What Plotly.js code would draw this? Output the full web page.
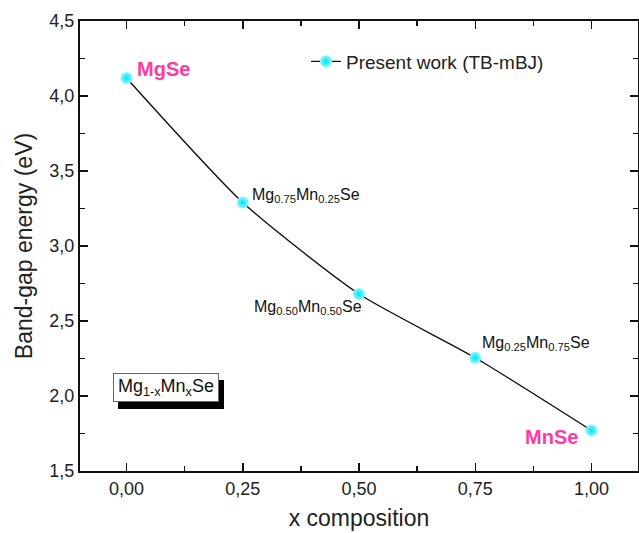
<!DOCTYPE html>
<html>
<head>
<meta charset="utf-8">
<script src="https://cdn.plot.ly/plotly-3.0.1.min.js"></script>
<style>html,body{margin:0;padding:0;background:#fff;}#chart{width:639px;height:533px;}</style>
</head>
<body>
<div id="chart"></div>
<script>
const composition = [0, 0.25, 0.5, 0.75, 1.0];
const bandGap = [4.12, 3.29, 2.68, 2.255, 1.77];
const seriesName = "Present work (TB-mBJ)";
const pointLabels = ["Mg<sub>0.75</sub>Mn<sub>0.25</sub>Se", "Mg<sub>0.50</sub>Mn<sub>0.50</sub>Se", "Mg<sub>0.25</sub>Mn<sub>0.75</sub>Se"];
const endLabels = ["MgSe", "MnSe"];
const boxLabel = "Mg<sub>1-x</sub>Mn<sub>x</sub>Se";
const xTicks = [0, 0.25, 0.5, 0.75, 1.0];
const yTicks = [1.5, 2.0, 2.5, 3.0, 3.5, 4.0, 4.5];

const FONT = "Arial, 'Liberation Sans', sans-serif";
const pink = "#ff3aa0";

const trace = {
  x: composition, y: bandGap, name: seriesName,
  type: "scatter", mode: "lines+markers",
  line: {color: "#111", width: 1.4, shape: "spline", smoothing: 0.6},
  marker: {size: 12, color: "#8ff8ff", gradient: {type: "radial", color: "#00e2f0"}, line: {width: 0}},
  showlegend: true
};

const axisCommon = {
  showline: true, linecolor: "#111", linewidth: 2, mirror: "allticks",
  ticks: "inside", ticklen: 8, tickwidth: 1.5, tickcolor: "#111",
  showgrid: false, zeroline: false,
  tickfont: {family: FONT, size: 18, color: "#222"}
};

const layout = {
  width: 639, height: 533,
  margin: {l: 80, r: 1, t: 21, b: 62},
  paper_bgcolor: "#fff", plot_bgcolor: "#fff",
  separators: ",.",
  font: {family: FONT, color: "#222"},
  xaxis: Object.assign({}, axisCommon, {
    range: [-0.1, 1.1], tickvals: xTicks, tickformat: ".2f",
    minor: {tickvals: [0.125, 0.375, 0.625, 0.875], ticks: "inside", ticklen: 5, tickwidth: 1.5, tickcolor: "#111"},
    title: {text: "x composition", font: {family: FONT, size: 23, color: "#222"}, standoff: 12}
  }),
  yaxis: Object.assign({}, axisCommon, {
    range: [1.5, 4.5], tickvals: yTicks, tickformat: ".1f",
    minor: {tickvals: [1.75, 2.25, 2.75, 3.25, 3.75, 4.25], ticks: "inside", ticklen: 5, tickwidth: 1.5, tickcolor: "#111"},
    title: {text: "Band-gap energy (eV)", font: {family: FONT, size: 23, color: "#222"}, standoff: 10}
  }),
  legend: {
    x: 0.405, y: 0.91, xanchor: "left", yanchor: "middle",
    bgcolor: "rgba(0,0,0,0)", borderwidth: 0,
    font: {family: FONT, size: 19, color: "#222"}
  },
  annotations: [
    {x: 0.08, y: 4.18, xref: "x", yref: "y", text: "<b>" + endLabels[0] + "</b>", showarrow: false,
     font: {family: FONT, size: 20, color: pink}},
    {x: 0.915, y: 1.727, xref: "x", yref: "y", text: "<b>" + endLabels[1] + "</b>", showarrow: false,
     font: {family: FONT, size: 20, color: pink}},
    {x: 0.265, y: 3.34, xref: "x", yref: "y", xanchor: "left", text: pointLabels[0], showarrow: false,
     font: {family: FONT, size: 16, color: "#111"}},
    {x: 0.269, y: 2.587, xref: "x", yref: "y", xanchor: "left", text: pointLabels[1], showarrow: false,
     font: {family: FONT, size: 16, color: "#111"}},
    {x: 0.76, y: 2.347, xref: "x", yref: "y", xanchor: "left", text: pointLabels[2], showarrow: false,
     font: {family: FONT, size: 16, color: "#111"}},
    {x: 0.085, y: 2.06, xref: "x", yref: "y", xshift: 5, yshift: -7, text: " ", width: 102, height: 25, showarrow: false,
     font: {family: FONT, size: 18, color: "#000"}, bgcolor: "#000", bordercolor: "#000", borderwidth: 1, borderpad: 1},
    {x: 0.085, y: 2.06, xref: "x", yref: "y", text: boxLabel, width: 102, height: 25, showarrow: false,
     font: {family: FONT, size: 18, color: "#111"}, bgcolor: "#fff", bordercolor: "#666", borderwidth: 1, borderpad: 1}
  ]
};

Plotly.newPlot("chart", [trace], layout, {displayModeBar: false, staticPlot: true});
</script>
</body>
</html>
